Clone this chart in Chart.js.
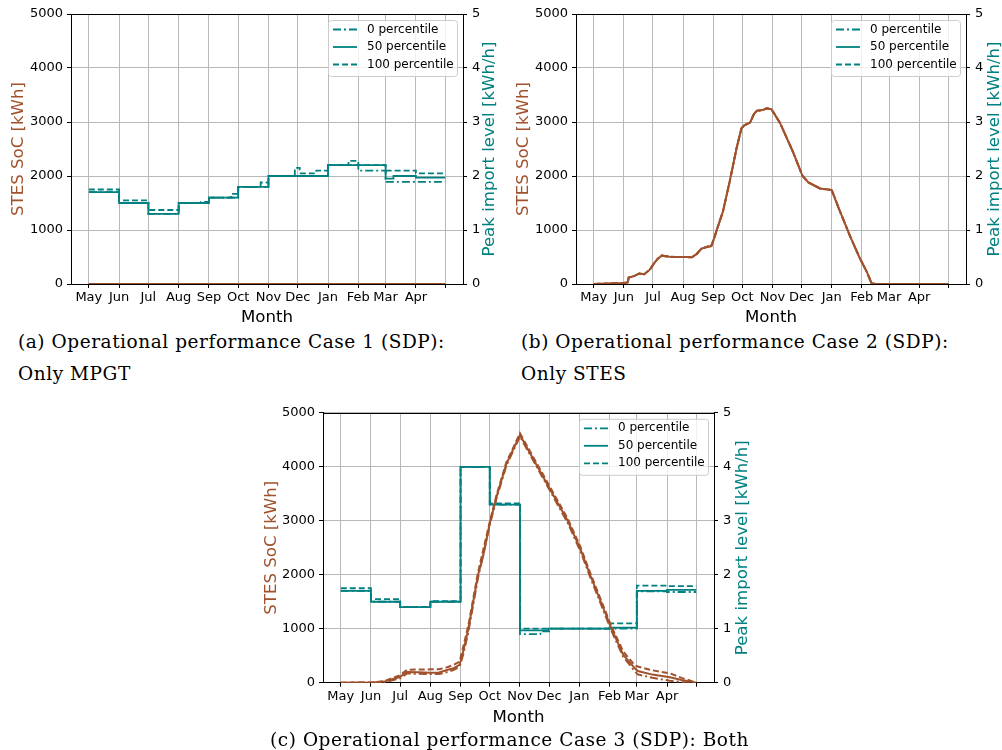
<!DOCTYPE html>
<html>
<head>
<meta charset="utf-8">
<script src="https://cdn.jsdelivr.net/npm/chart.js@4.4.0/dist/chart.umd.min.js"></script>
<style>
  html, body { margin: 0; padding: 0; background: #fff; }
  body { width: 1002px; height: 750px; position: relative; overflow: hidden; }
  canvas { position: absolute; }
  .cap { position: absolute; font-family: "DejaVu Serif", serif; font-size: 18.5px; letter-spacing: 0.55px; line-height: 20px; color: #000; white-space: nowrap; }
</style>
</head>
<body>
<canvas id="chartA" width="500" height="330" style="left:0;top:0"></canvas>
<canvas id="chartB" width="502" height="330" style="left:500px;top:0"></canvas>
<canvas id="chartC" width="520" height="330" style="left:240px;top:400px"></canvas>
<div class="cap" style="left:18px;top:332px">(a) Operational performance Case 1 (SDP):</div>
<div class="cap" style="left:18px;top:364px">Only MPGT</div>
<div class="cap" style="left:521px;top:332px">(b) Operational performance Case 2 (SDP):</div>
<div class="cap" style="left:521px;top:364px">Only STES</div>
<div class="cap" style="left:270px;top:730px">(c) Operational performance Case 3 (SDP): Both</div>
<script>
// x axis = day of the year starting 1 May
const monthLabels = ['May', 'Jun', 'Jul', 'Aug', 'Sep', 'Oct', 'Nov', 'Dec', 'Jan', 'Feb', 'Mar', 'Apr', ''];
const monthStartDays = [0, 31, 61, 92, 123, 153, 184, 214, 245, 276, 304, 335, 365];
const percentileLabels = ['0 percentile', '50 percentile', '100 percentile'];

// Case 1: only MPGT  (pairs are [day, value])
const socA_p0 = [[0, 0], [365, 0]];
const socA_p50 = [[0, 0], [365, 0]];
const socA_p100 = [[0, 0], [365, 0]];
const importA_p0 = [[0, 1.7], [31, 1.5], [61, 1.3], [92, 1.5], [123, 1.6], [153, 1.8], [184, 2.0], [245, 2.2], [276, 2.1], [304, 1.89], [365, 1.89]];
const importA_p50 = [[0, 1.7], [31, 1.5], [61, 1.3], [92, 1.5], [123, 1.6], [153, 1.8], [184, 2.0], [245, 2.2], [304, 1.95], [312, 2.0], [335, 1.97], [365, 1.97]];
const importA_p100 = [[0, 1.75], [31, 1.55], [61, 1.37], [92, 1.5], [115, 1.52], [123, 1.6], [146, 1.67], [153, 1.8], [176, 1.88], [184, 2.0], [211, 2.15], [216, 2.05], [233, 2.1], [245, 2.2], [266, 2.28], [276, 2.2], [304, 2.1], [335, 2.05], [365, 2.05]];

// Case 2: only STES
const socB = [[0, 0], [31, 20], [35, 30], [36, 120], [42, 150], [47, 195], [52, 180], [58, 270], [62, 380], [66, 470], [70, 525], [78, 505], [85, 500], [95, 500], [101, 494], [106, 556], [111, 655], [117, 690], [121, 700], [124, 850], [127, 1020], [133, 1340], [140, 1900], [147, 2510], [152, 2880], [155, 2940], [161, 2990], [165, 3150], [168, 3210], [174, 3220], [178, 3255], [183, 3235], [186, 3150], [192, 2975], [205, 2450], [215, 2000], [221, 1880], [233, 1770], [245, 1740], [253, 1370], [264, 880], [274, 475], [281, 230], [286, 15], [290, 0], [365, 0]];
const importB_p0 = [];
const importB_p50 = [];
const importB_p100 = [];

// Case 3: both
const socC_p0 = [[0, 0], [31, 3], [37, 5], [45, 10], [52, 40], [61, 80], [68, 170], [92, 160], [101, 160], [110, 200], [116, 240], [122, 296], [126, 540], [131, 940], [141, 1950], [153, 2920], [160, 3420], [170, 4020], [184, 4560], [215, 3550], [233, 2960], [246, 2440], [256, 1960], [278, 960], [290, 480], [302, 210], [305, 154], [320, 90], [338, 37], [350, 10], [365, 0]];
const socC_p50 = [[0, 0], [31, 5], [37, 10], [45, 20], [52, 60], [61, 110], [68, 200], [80, 195], [92, 185], [101, 190], [110, 240], [116, 270], [122, 330], [126, 600], [131, 1000], [141, 2000], [146, 2330], [153, 2950], [160, 3450], [170, 4050], [184, 4590], [215, 3580], [233, 3000], [246, 2480], [256, 2000], [278, 1000], [290, 520], [302, 266], [305, 216], [320, 150], [338, 99], [350, 50], [365, 0]];
const socC_p100 = [[0, 0], [31, 5], [37, 12], [45, 30], [52, 80], [61, 140], [68, 240], [92, 247], [101, 250], [110, 290], [116, 330], [122, 390], [126, 680], [131, 1060], [141, 2050], [153, 2980], [160, 3480], [170, 4080], [184, 4620], [215, 3620], [233, 3040], [246, 2520], [256, 2040], [278, 1040], [290, 580], [302, 320], [305, 300], [320, 230], [338, 173], [350, 90], [365, 0]];
const importC_p0 = [[0, 1.7], [31, 1.5], [61, 1.4], [92, 1.5], [123, 4.0], [153, 3.3], [184, 0.9], [205, 0.95], [214, 1.0], [276, 1.0], [304, 1.69], [335, 1.68], [365, 1.68]];
const importC_p50 = [[0, 1.7], [31, 1.5], [61, 1.4], [92, 1.5], [123, 4.0], [153, 3.3], [184, 0.97], [213, 1.0], [276, 1.02], [304, 1.7], [335, 1.72], [365, 1.72]];
const importC_p100 = [[0, 1.75], [31, 1.55], [61, 1.4], [92, 1.51], [123, 4.0], [153, 3.32], [184, 1.0], [276, 1.1], [304, 1.8], [335, 1.79], [365, 1.79]];

const SIENNA = '#a0522d';
const TEAL = '#008080';
const dashes = [[8, 3, 2, 3], [], [6, 3]];
const TICK_SIZE = 13;
const TITLE_SIZE = 16.6;

Chart.defaults.font.family = '"DejaVu Sans", sans-serif';
Chart.defaults.color = '#000';

const toPoints = (pairs) => pairs.map(([x, y]) => ({ x, y }));

const extrasPlugin = (rightTitleX) => ({
  id: 'extras',
  afterDatasetsDraw(chart) {
    const { ctx, chartArea: a } = chart;
    ctx.save();
    // top spine
    ctx.strokeStyle = '#000';
    ctx.lineWidth = 1;
    ctx.beginPath();
    ctx.moveTo(a.left, Math.round(a.top) + 0.5);
    ctx.lineTo(a.right, Math.round(a.top) + 0.5);
    ctx.stroke();

    // legend (peak import series only), upper right inside the axes
    const items = chart.data.datasets.filter(d => d.yAxisID === 'y2');
    const w = 129, h = 56;
    const bx = a.right - 6 - w, by = a.top + 6;
    ctx.fillStyle = 'rgba(255,255,255,0.8)';
    ctx.strokeStyle = '#cccccc';
    ctx.beginPath();
    ctx.roundRect(bx + 0.5, by + 0.5, w, h, 3);
    ctx.fill();
    ctx.stroke();
    ctx.font = '12px "DejaVu Sans"';
    ctx.textBaseline = 'middle';
    items.forEach((d, i) => {
      const yy = by + 9.5 + i * 17.5;
      ctx.strokeStyle = d.borderColor;
      ctx.lineWidth = d.borderWidth;
      ctx.setLineDash(d.borderDash || []);
      ctx.beginPath();
      ctx.moveTo(bx + 5, yy);
      ctx.lineTo(bx + 29, yy);
      ctx.stroke();
      ctx.setLineDash([]);
      ctx.fillStyle = '#000';
      ctx.fillText(d.label, bx + 39, yy);
    });

    // right axis title, reading bottom to top
    ctx.translate(rightTitleX, (a.top + a.bottom) / 2);
    ctx.rotate(-Math.PI / 2);
    ctx.fillStyle = TEAL;
    ctx.font = TITLE_SIZE + 'px "DejaVu Sans"';
    ctx.textAlign = 'center';
    ctx.fillText('Peak import level [kWh/h]', 0, 0);
    ctx.restore();
  }
});

const makeChart = (id, socSeries, importSeries, box) => {
  const datasets = [];
  socSeries.forEach((s, i) => datasets.push({
    label: 'SoC ' + percentileLabels[i],
    data: toPoints(s),
    yAxisID: 'y',
    borderColor: SIENNA,
    borderWidth: 2,
    borderDash: dashes[i],
    pointRadius: 0,
    tension: 0
  }));
  importSeries.forEach((s, i) => datasets.push({
    label: percentileLabels[i],
    data: toPoints(s),
    yAxisID: 'y2',
    borderColor: TEAL,
    borderWidth: 1.8,
    borderDash: dashes[i],
    pointRadius: 0,
    stepped: true
  }));

  const gridStyle = { color: '#b8b8b8', lineWidth: 1, tickColor: '#000', tickLength: 4 };
  const borderStyle = { color: '#000', width: 1 };

  new Chart(document.getElementById(id), {
    type: 'line',
    data: { datasets },
    options: {
      responsive: false,
      animation: false,
      devicePixelRatio: 1,
      layout: { padding: { top: box.top, left: 0, right: 0, bottom: 0 } },
      plugins: { legend: { display: false }, tooltip: { enabled: false } },
      scales: {
        x: {
          type: 'linear',
          min: -18.25,
          max: 383.25,
          afterBuildTicks: (scale) => { scale.ticks = monthStartDays.map(v => ({ value: v })); },
          afterFit: (scale) => { scale.height = box.bottomH; },
          ticks: {
            autoSkip: false, maxRotation: 0, padding: 2,
            font: { size: TICK_SIZE }, color: '#000',
            callback: (v, i) => monthLabels[i]
          },
          grid: gridStyle,
          border: borderStyle,
          title: { display: true, text: 'Month', color: '#000', font: { size: TITLE_SIZE }, padding: { top: 0, bottom: 2.5 } }
        },
        y: {
          position: 'left',
          min: 0, max: 5000,
          afterFit: (scale) => { scale.width = box.leftW; },
          ticks: { stepSize: 1000, padding: 4, font: { size: TICK_SIZE }, color: '#000', callback: v => String(v) },
          grid: gridStyle,
          border: borderStyle,
          title: { display: true, text: 'STES SoC [kWh]', color: SIENNA, font: { size: TITLE_SIZE }, padding: { top: box.leftTitlePad, bottom: 0 } }
        },
        y2: {
          position: 'right',
          min: 0, max: 5,
          afterFit: (scale) => { scale.width = box.rightW; },
          ticks: { stepSize: 1, padding: 5, font: { size: TICK_SIZE }, color: '#000', callback: v => String(v) },
          grid: { ...gridStyle, drawOnChartArea: false },
          border: borderStyle
        }
      }
    },
    plugins: [extrasPlugin(box.rightTitleX)]
  });
};

makeChart('chartA', [socA_p0, socA_p50, socA_p100], [importA_p0, importA_p50, importA_p100],
  { top: 14, leftW: 71, rightW: 37, bottomH: 46, leftTitlePad: 9, rightTitleX: 490 });
makeChart('chartB', [socB, socB, socB], [importB_p0, importB_p50, importB_p100],
  { top: 14, leftW: 76, rightW: 36, bottomH: 46, leftTitlePad: 13.3, rightTitleX: 494.3 });
makeChart('chartC', [socC_p0, socC_p50, socC_p100], [importC_p0, importC_p50, importC_p100],
  { top: 12.7, leftW: 83, rightW: 46, bottomH: 47.3, leftTitlePad: 21.7, rightTitleX: 502.7 });
</script>
</body>
</html>
